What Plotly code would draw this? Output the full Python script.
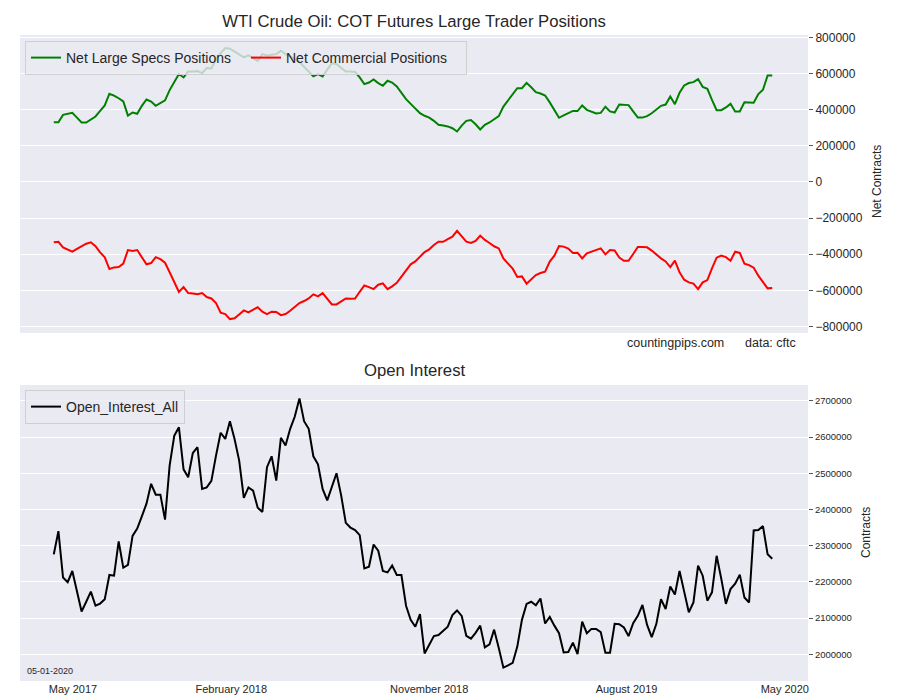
import pandas as pd
import plotly.graph_objects as go

# weekly COT report dates
dates = pd.date_range("2017-05-09", "2020-04-28", freq="7D")

net_large_specs = [
    330000, 330000, 371000, 375000, 382000, 356000, 329000, 329000, 345000, 362000,
    393000, 423000, 488000, 478000, 463000, 445000, 367000, 384000, 377000, 421000,
    456000, 445000, 421000, 434000, 451000, 508000, 552000, 597000, 578000, 611000,
    611000, 613000, 602000, 630000, 628000, 676000, 713000, 741000, 737000, 722000,
    704000, 689000, 700000, 685000, 670000, 707000, 700000, 704000, 707000, 726000,
    707000, 694000, 681000, 663000, 639000, 611000, 584000, 597000, 584000, 621000,
    657000, 652000, 630000, 611000, 611000, 608000, 578000, 541000, 550000, 567000,
    547000, 532000, 560000, 550000, 528000, 491000, 458000, 432000, 408000, 380000,
    366000, 356000, 338000, 316000, 312000, 307000, 297000, 279000, 312000, 338000,
    342000, 319000, 290000, 316000, 329000, 349000, 364000, 417000, 449000, 486000,
    519000, 519000, 548000, 524000, 497000, 489000, 478000, 440000, 399000, 355000,
    368000, 380000, 393000, 392000, 423000, 399000, 390000, 379000, 382000, 416000,
    390000, 384000, 428000, 427000, 425000, 390000, 356000, 356000, 364000, 380000,
    401000, 421000, 428000, 473000, 430000, 493000, 534000, 547000, 552000, 569000,
    526000, 515000, 454000, 397000, 397000, 412000, 432000, 390000, 390000, 441000,
    440000, 438000, 486000, 510000, 589000, 589000,
]

net_commercial = [
    -334000, -331000, -362000, -373000, -386000, -371000, -356000, -342000, -334000, -356000,
    -390000, -417000, -482000, -473000, -471000, -452000, -377000, -382000, -377000, -417000,
    -456000, -449000, -416000, -427000, -447000, -500000, -552000, -609000, -582000, -615000,
    -617000, -622000, -615000, -637000, -645000, -670000, -724000, -731000, -759000, -755000,
    -733000, -711000, -722000, -709000, -693000, -718000, -731000, -718000, -720000, -737000,
    -731000, -713000, -693000, -670000, -659000, -645000, -622000, -633000, -615000, -648000,
    -678000, -678000, -663000, -645000, -646000, -645000, -608000, -573000, -582000, -593000,
    -569000, -561000, -593000, -578000, -558000, -523000, -489000, -456000, -440000, -412000,
    -388000, -373000, -349000, -331000, -331000, -316000, -303000, -271000, -303000, -331000,
    -338000, -327000, -297000, -321000, -338000, -356000, -368000, -423000, -452000, -480000,
    -526000, -523000, -563000, -541000, -515000, -504000, -497000, -441000, -408000, -355000,
    -358000, -369000, -393000, -392000, -423000, -395000, -386000, -373000, -368000, -401000,
    -377000, -379000, -419000, -436000, -436000, -399000, -360000, -360000, -362000, -380000,
    -403000, -423000, -440000, -471000, -436000, -500000, -541000, -556000, -563000, -593000,
    -556000, -543000, -478000, -419000, -408000, -416000, -436000, -386000, -393000, -452000,
    -460000, -475000, -519000, -552000, -589000, -587000,
]

open_interest = [
    2276000, 2340000, 2212000, 2199000, 2230000, 2175000, 2118000, 2145000, 2173000, 2134000,
    2140000, 2152000, 2219000, 2217000, 2312000, 2239000, 2247000, 2327000, 2347000, 2381000,
    2416000, 2471000, 2441000, 2441000, 2372000, 2522000, 2604000, 2627000, 2511000, 2489000,
    2556000, 2572000, 2457000, 2461000, 2479000, 2549000, 2612000, 2595000, 2644000, 2595000,
    2535000, 2432000, 2461000, 2452000, 2405000, 2393000, 2517000, 2547000, 2480000, 2598000,
    2577000, 2623000, 2657000, 2707000, 2644000, 2623000, 2547000, 2525000, 2457000, 2425000,
    2466000, 2500000, 2439000, 2363000, 2350000, 2343000, 2329000, 2237000, 2242000, 2303000,
    2286000, 2230000, 2226000, 2245000, 2219000, 2219000, 2134000, 2095000, 2076000, 2111000,
    2002000, 2026000, 2050000, 2053000, 2064000, 2076000, 2108000, 2121000, 2106000, 2051000,
    2043000, 2059000, 2079000, 2019000, 2027000, 2068000, 2017000, 1963000, 1969000, 1976000,
    2021000, 2095000, 2139000, 2145000, 2135000, 2154000, 2085000, 2103000, 2079000, 2058000,
    2005000, 2006000, 2032000, 2000000, 2090000, 2058000, 2070000, 2070000, 2061000, 2004000,
    2004000, 2084000, 2083000, 2074000, 2050000, 2086000, 2106000, 2136000, 2081000, 2047000,
    2084000, 2152000, 2125000, 2187000, 2165000, 2230000, 2173000, 2116000, 2143000, 2245000,
    2217000, 2148000, 2171000, 2272000, 2209000, 2139000, 2180000, 2195000, 2220000, 2157000,
    2143000, 2342000, 2343000, 2354000, 2276000, 2264000,
]

x_tick_dates = ["2017-06-07", "2018-02-01", "2018-11-27", "2019-09-21", "2020-05-17"]
x_tick_labels = ["May 2017", "February 2018", "November 2018", "August 2019", "May 2020"]
top_ticks = list(range(-800000, 800001, 200000))
bottom_ticks = list(range(2000000, 2700001, 100000))

FONT = "Liberation Sans, Arial, sans-serif"
TEXT = "#262626"
BG = "#EAEAF2"

# the page body adds an 8px offset, so the figure is 892x692 and
# screen positions are converted to paper fractions here
W, H, OFF = 892, 692, 8


def px(x):
    return (x - OFF) / W


def py(y):
    return 1 - (y - OFF) / H


fig = go.Figure()
fig.add_trace(go.Scatter(x=dates, y=net_large_specs, name="Net Large Specs Positions",
                         mode="lines", line=dict(color="green", width=2),
                         xaxis="x", yaxis="y", legend="legend"))
fig.add_trace(go.Scatter(x=dates, y=net_commercial, name="Net Commercial Positions",
                         mode="lines", line=dict(color="red", width=2),
                         xaxis="x", yaxis="y", legend="legend"))
fig.add_trace(go.Scatter(x=dates, y=open_interest, name="Open_Interest_All",
                         mode="lines", line=dict(color="black", width=2),
                         xaxis="x2", yaxis="y2", legend="legend2"))

x_range = ["2017-03-19", "2020-06-21"]
xdom = [px(20), px(808)]

legend_style = dict(
    orientation="h", xanchor="left", yanchor="top",
    bgcolor="rgba(234,234,242,0.8)", bordercolor="rgba(204,204,204,0.9)", borderwidth=1,
    font=dict(family=FONT, size=14, color=TEXT), tracegroupgap=0,
)

fig.update_layout(
    width=W, height=H,
    margin=dict(l=0, r=0, t=0, b=0, autoexpand=False),
    paper_bgcolor="white", plot_bgcolor=BG,
    font=dict(family=FONT, color=TEXT),
    title=dict(text="WTI Crude Oil: COT Futures Large Trader Positions",
               x=px(414), xanchor="center", y=py(21), yanchor="middle",
               font=dict(size=16.7, color=TEXT)),
    xaxis=dict(domain=xdom, anchor="y", type="date", range=x_range, automargin=False,
               showgrid=False, zeroline=False, showticklabels=False, ticks=""),
    yaxis=dict(domain=[py(333), py(35)], anchor="x", side="right",
               range=[-836000, 813000], tickvals=top_ticks, tickformat="d",
               automargin=False,
               showgrid=True, gridcolor="white", gridwidth=1, zeroline=False,
               ticks="outside", ticklen=4, tickcolor="#555555",
               tickfont=dict(size=12, color=TEXT)),
    xaxis2=dict(domain=xdom, anchor="y2", type="date", range=x_range, automargin=False,
                showgrid=False, zeroline=False, ticks="",
                tickvals=x_tick_dates, ticktext=x_tick_labels,
                tickfont=dict(size=11, color=TEXT)),
    yaxis2=dict(domain=[py(681), py(385)], anchor="x2", side="right",
                range=[1926000, 2744000], tickvals=bottom_ticks, tickformat="d",
                automargin=False,
                showgrid=True, gridcolor="white", gridwidth=1, zeroline=False,
                ticks="outside", ticklen=4, tickcolor="#555555",
                tickfont=dict(size=9.5, color=TEXT)),
    legend=dict(x=px(25), y=py(41), entrywidth=175, **legend_style),
    legend2=dict(x=px(25), y=py(390), **legend_style),
)

annotations = [
    dict(text="Open Interest", x=414, y=370, size=16.7, angle=0),
    dict(text="countingpips.com", x=675, y=343, size=12.5, angle=0),
    dict(text="data: cftc", x=770, y=343, size=12.5, angle=0),
    dict(text="05-01-2020", x=50, y=671, size=9, angle=0),
    dict(text="Net Contracts", x=877, y=182, size=12, angle=-90),
    dict(text="Contracts", x=866, y=533, size=12, angle=-90),
]
for a in annotations:
    fig.add_annotation(text=a["text"], x=px(a["x"]), y=py(a["y"]), xref="paper", yref="paper",
                       xanchor="center", yanchor="middle", showarrow=False,
                       textangle=a["angle"], font=dict(size=a["size"], color=TEXT))

fig.write_html("out.html")
